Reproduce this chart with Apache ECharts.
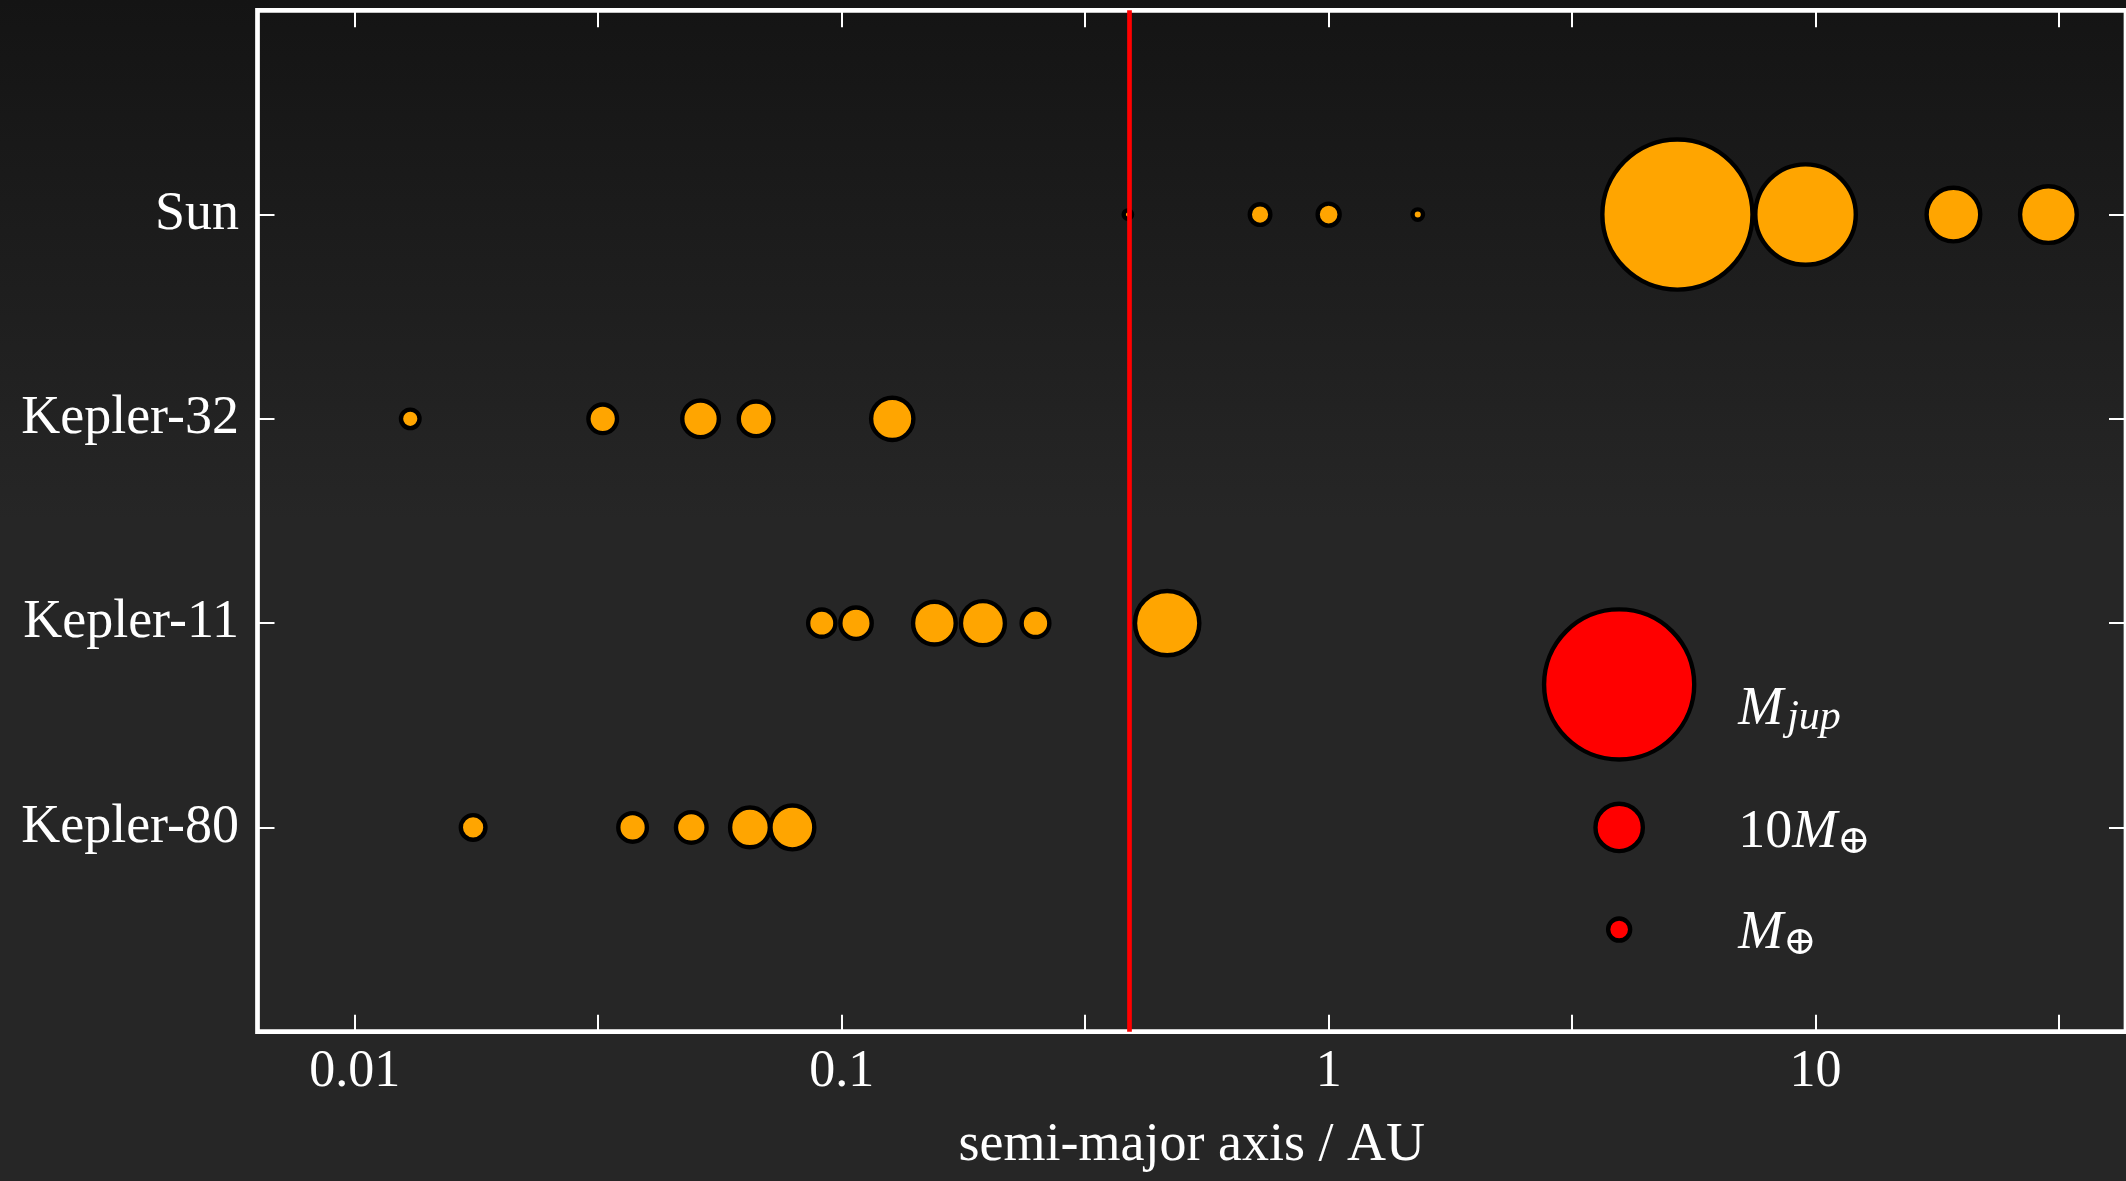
<!DOCTYPE html>
<html><head><meta charset="utf-8">
<script src="https://cdn.jsdelivr.net/npm/echarts@6/dist/echarts.min.js"></script>
<style>
html,body{margin:0;padding:0;background:#262626;}
#c{width:2126px;height:1181px;background:linear-gradient(to bottom,#141414 0px,#262626 520px,#262626 100%);}
</style>
</head><body><div id="c"></div>
<script>
// ---- data ----
const systems = ['Sun', 'Kepler-32', 'Kepler-11', 'Kepler-80'];
// semi-major axis (AU) and mass (Earth masses)
const sunA = [0.387, 0.723, 1.0, 1.524, 5.203, 9.537, 19.19, 30.07];
const sunM = [0.055, 0.815, 1.0, 0.107, 317.8, 95.2, 14.5, 17.1];
const k32A = [0.013, 0.0323, 0.0513, 0.0667, 0.127];
const k32M = [0.6, 2.2, 4.6, 3.9, 7.1];
const k11A = [0.091, 0.107, 0.155, 0.195, 0.25, 0.466];
const k11M = [1.9, 2.9, 7.3, 8.0, 2.0, 25];
const k80A = [0.0175, 0.0372, 0.0491, 0.0648, 0.0792];
const k80M = [1.4, 2.2, 2.7, 5.9, 7.9];
const mercuryA = 0.387;
const xTickValues = [0.01, 0.03162, 0.1, 0.3162, 1, 3.162, 10, 31.62];
const xTickLabels = [0.01, 0.1, 1, 10];
const xTitle = 'semi-major axis / AU';
const legendMasses = [317.8, 10, 1];
const legendTexts = ['{m|M}{s|jup}', '{n|10}{m|M}{e|⊕}', '{m|M}{e|⊕}'];

// ---- style constants ----
const FONT = 'Liberation Serif';
const SIZE_K = 22;           // px per (Earth mass)^(1/3)
const LEGEND_X = 3.95;       // legend placement in data units
const LEGEND_Y = [3.3, 4.0, 4.5];
const LEGEND_DY = [25, 5, 4.5];
const GRID = {left: 257.5, top: 10.3, width: 1871.5, height: 1021.4};

const sizeFn = v => SIZE_K * Math.cbrt(v[2]);
const planetStyle = {color: '#ffa500', borderColor: '#000', borderWidth: 4.4, opacity: 1};

function sysSeries(name, A, M) {
  const row = systems.indexOf(name) + 1;
  return {
    type: 'scatter', name: name, xAxisIndex: 0, yAxisIndex: 0,
    data: A.map((a, i) => [a, row, M[i]]),
    symbolSize: sizeFn, itemStyle: planetStyle,
    emphasis: {disabled: true}, z: 3
  };
}

const chart = echarts.init(document.getElementById('c'), null, {renderer: 'canvas'});
const X_MIN = 0.006313, X_MAX = 43.4;
const tickStyle = {show: true, inside: true, length: 17, lineStyle: {color: '#ffffff', width: 2}};
const labelStyle = {color: '#ffffff', fontFamily: FONT};

const sunSeries = sysSeries('Sun', sunA, sunM);
sunSeries.markLine = {
  silent: true, symbol: ['none', 'none'], label: {show: false},
  lineStyle: {color: '#ff0000', width: 4.7, type: 'solid', opacity: 1},
  emphasis: {disabled: true},
  data: [{xAxis: mercuryA}]
};

function tickOnlyLogAxis(pos) {
  return {type: 'log', logBase: 10, min: X_MIN, max: X_MAX, position: pos,
    axisLine: {show: false}, splitLine: {show: false}, minorTick: {show: false},
    axisTick: Object.assign({customValues: xTickValues}, tickStyle),
    axisLabel: {show: false}};
}

const option = {
  backgroundColor: 'transparent',
  animation: false,
  grid: Object.assign({show: true, borderColor: '#ffffff', borderWidth: 4.7,
         backgroundColor: 'transparent', containLabel: false}, GRID),
  xAxis: [
    {type: 'log', logBase: 10, min: X_MIN, max: X_MAX, position: 'bottom',
     axisLine: {show: false}, splitLine: {show: false}, minorTick: {show: false},
     axisTick: {show: false},
     axisLabel: Object.assign({customValues: xTickLabels, formatter: v => String(+(+v).toPrecision(3)), fontSize: 52, margin: 15}, labelStyle),
     name: xTitle, nameLocation: 'middle', nameGap: 87,
     nameTextStyle: {color: '#ffffff', fontFamily: FONT, fontSize: 54}},
    tickOnlyLogAxis('top'),
    tickOnlyLogAxis('bottom')
  ],
  yAxis: [
    {type: 'value', min: 0, max: 5, inverse: true, position: 'left',
     axisLine: {show: false}, splitLine: {show: false},
     axisTick: Object.assign({customValues: [1, 2, 3, 4]}, tickStyle),
     axisLabel: Object.assign({customValues: [1, 2, 3, 4], formatter: v => systems[Math.round(v) - 1] || '', fontSize: 54, margin: 18.5, padding: [0, 0, 6, 0]}, labelStyle)},
    {type: 'value', min: 0, max: 5, inverse: true, position: 'right',
     axisLine: {show: false}, splitLine: {show: false},
     axisTick: Object.assign({customValues: [1, 2, 3, 4]}, tickStyle),
     axisLabel: {show: false}}
  ],
  series: [
    sunSeries,
    sysSeries('Kepler-32', k32A, k32M),
    sysSeries('Kepler-11', k11A, k11M),
    sysSeries('Kepler-80', k80A, k80M),
    {
      type: 'scatter', name: 'legend', xAxisIndex: 0, yAxisIndex: 0, z: 3,
      symbolSize: sizeFn,
      itemStyle: {color: '#ff0000', borderColor: '#000', borderWidth: 4.4, opacity: 1},
      emphasis: {disabled: true},
      data: legendMasses.map((m, i) => ({
        value: [LEGEND_X, LEGEND_Y[i], m],
        label: {
          show: true, position: 'inside', align: 'left', offset: [119, LEGEND_DY[i]],
          formatter: legendTexts[i], opacity: 1,
          rich: {
            m: {fontFamily: FONT, fontStyle: 'italic', fontSize: 54, color: '#ffffff', lineHeight: 60, verticalAlign: 'middle'},
            n: {fontFamily: FONT, fontSize: 54, color: '#ffffff', lineHeight: 60, verticalAlign: 'middle'},
            s: {fontFamily: FONT, fontStyle: 'italic', fontSize: 42, color: '#ffffff', lineHeight: 34, verticalAlign: 'bottom', padding: [0, 0, 0, 4]},
            e: {fontFamily: 'DejaVu Serif', fontSize: 40, color: '#ffffff', lineHeight: 34, verticalAlign: 'bottom'}
          }
        }
      }))
    }
  ]
};
chart.setOption(option);
</script>
</body></html>
